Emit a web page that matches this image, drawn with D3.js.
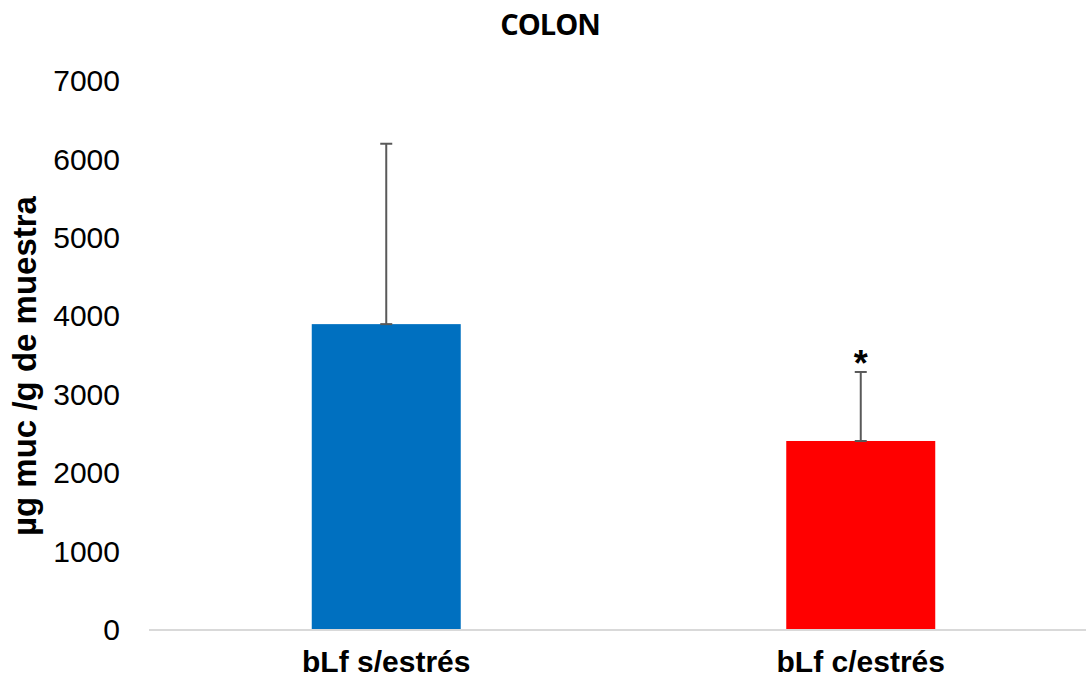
<!DOCTYPE html>
<html><head><meta charset="utf-8">
<script src="https://cdn.jsdelivr.net/npm/d3@7"></script>
<style>body{margin:0;background:#fff}svg{display:block}</style>
</head><body><svg id="c" width="1086" height="681"></svg>
<script>
const categories = ["bLf s/estrés", "bLf c/estrés"];
const means = [3900, 2410];
const errors = [2300, 880];
const colors = ["#0070C0", "#FF0000"];
const yTicks = [0, 1000, 2000, 3000, 4000, 5000, 6000, 7000];
const significance = ["", "*"];

const svg = d3.select("#c");
const x = d3.scaleBand().domain(categories).range([149, 1098]).paddingInner(0.686).paddingOuter(0.343);
const y = d3.scaleLinear().domain([0, 7000]).range([630, 81]);

svg.append("text").attr("x", 550).attr("y", 35).attr("text-anchor", "middle")
  .style("font-family", "'Open Sans',sans-serif").style("font-weight", "bold").style("font-size", "29px")
  .style("letter-spacing", "-1px").text("COLON");

const yAxis = svg.append("g").attr("transform", "translate(149,0)")
  .call(d3.axisLeft(y).tickValues(yTicks).tickSize(0).tickPadding(29).tickFormat(d3.format("d")));
yAxis.select(".domain").remove();
yAxis.selectAll("text").style("font-family", "'Liberation Sans',Arial,sans-serif").style("font-size", "30px").attr("fill", "#000");

svg.append("text").attr("transform", "translate(36,366) rotate(-90)").attr("text-anchor", "middle")
  .style("font-family", "'Liberation Sans',Arial,sans-serif").style("font-weight", "bold").style("font-size", "33px").text("µg muc /g de muestra");

svg.selectAll("rect.bar").data(categories).enter().append("rect").attr("class", "bar")
  .attr("x", d => x(d)).attr("width", x.bandwidth())
  .attr("y", (d, i) => y(means[i])).attr("height", (d, i) => y(0) - y(means[i]))
  .attr("fill", (d, i) => colors[i]);

const eb = svg.selectAll("g.eb").data(categories).enter().append("g").attr("class", "eb");
eb.append("line").attr("x1", d => x(d) + x.bandwidth() / 2).attr("x2", d => x(d) + x.bandwidth() / 2)
  .attr("y1", (d, i) => y(means[i])).attr("y2", (d, i) => y(means[i] + errors[i]))
  .attr("stroke", "#595959").attr("stroke-width", 2);
eb.append("line").attr("x1", d => x(d) + x.bandwidth() / 2 - 6).attr("x2", d => x(d) + x.bandwidth() / 2 + 6)
  .attr("y1", (d, i) => y(means[i] + errors[i])).attr("y2", (d, i) => y(means[i] + errors[i]))
  .attr("stroke", "#595959").attr("stroke-width", 2);
eb.append("line").attr("x1", d => x(d) + x.bandwidth() / 2 - 6).attr("x2", d => x(d) + x.bandwidth() / 2 + 6)
  .attr("y1", (d, i) => y(means[i])).attr("y2", (d, i) => y(means[i]))
  .attr("stroke", "#595959").attr("stroke-width", 2);
eb.append("text").attr("x", d => x(d) + x.bandwidth() / 2).attr("y", (d, i) => y(means[i] + errors[i]) + 4)
  .attr("text-anchor", "middle").style("font-family", "'Liberation Sans',Arial,sans-serif")
  .style("font-weight", "bold").style("font-size", "36px").text((d, i) => significance[i]);

svg.append("line").attr("x1", 149).attr("x2", 1086).attr("y1", 630).attr("y2", 630)
  .attr("stroke", "#D9D9D9").attr("stroke-width", 2);

const xAxis = svg.append("g").attr("transform", "translate(0,630)")
  .call(d3.axisBottom(x).tickSize(0).tickPadding(21));
xAxis.select(".domain").remove();
xAxis.selectAll("text").style("font-family", "'Liberation Sans',Arial,sans-serif").style("font-weight", "bold").style("font-size", "30px").attr("fill", "#000");
</script></body></html>
